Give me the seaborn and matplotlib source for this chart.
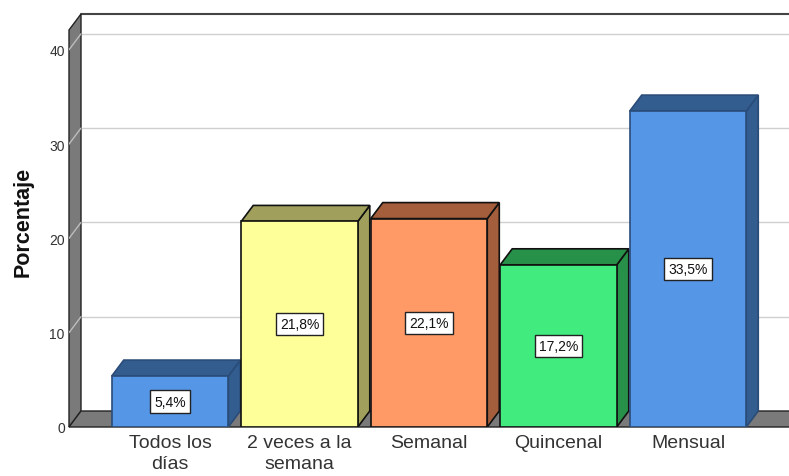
import matplotlib
matplotlib.use("Agg")
import matplotlib.pyplot as plt
import seaborn as sns
import pandas as pd
import numpy as np

categories = ["Todos los\ndías", "2 veces a la\nsemana", "Semanal", "Quincenal", "Mensual"]
values = [5.4, 21.8, 22.1, 17.2, 33.5]
value_labels = ["5,4%", "21,8%", "22,1%", "17,2%", "33,5%"]
front_colors = ["#5596E6", "#FFFF99", "#FF9966", "#41EB7E", "#5596E6"]
side_colors = ["#335C8F", "#A0A05C", "#A55E3C", "#279149", "#335C8F"]
edge_colors = ["#2A4C78", "#111111", "#111111", "#111111", "#2A4C78"]
yticks = [0, 10, 20, 30, 40]

sns.set_theme(style="white")
plt.rcParams['font.family'] = ['Liberation Sans', 'DejaVu Sans']

fig = plt.figure(figsize=(7.89, 4.77), dpi=100)
W, H = 789, 477
x_left_px, y_bottom_px, y_top_px = 69, 428, 15
ax = fig.add_axes([x_left_px / W, (H - y_bottom_px) / H, (W - x_left_px) / W, (y_bottom_px - y_top_px) / H])

px_per_unit_y = 9.43
px_per_cat = 129.5
ymax = (y_bottom_px - y_top_px) / px_per_unit_y
xmin, xmax = -0.78, 4.78
dx = 12 / px_per_cat
dy = 16 / px_per_unit_y
front_top = ymax - dy

df = pd.DataFrame({"cat": categories, "val": values})
sns.barplot(data=df, x="cat", y="val", hue="cat", palette=front_colors, legend=False,
            width=0.9, ax=ax, saturation=1, zorder=5)
bars = [p for c in ax.containers for p in c]

ax.set_xlim(xmin, xmax)
ax.set_ylim(0, ymax)
for s in ax.spines.values():
    s.set_visible(False)

# back wall
ax.fill([xmin + dx, xmax, xmax, xmin + dx], [dy, dy, ymax, ymax], color="white", zorder=0)
ax.plot([xmin + dx, xmax], [ymax, ymax], color="#444444", lw=1.5, zorder=1, clip_on=False)
for t in yticks[1:]:
    ax.plot([xmin + dx, xmax], [t + dy, t + dy], color="#CFCFCF", lw=1, zorder=1)
# left wall
ax.fill([xmin, xmin, xmin + dx, xmin + dx], [0, front_top, ymax, dy], facecolor="#7A7A7A",
        edgecolor="#222222", lw=1, zorder=2, clip_on=False)
for t in yticks[1:]:
    ax.plot([xmin, xmin + dx], [t, t + dy], color="#BDBDBD", lw=1, zorder=2.5)
# floor
ax.fill([xmin, xmin + dx, xmax + 0.05, xmax + 0.05], [0, dy, dy, 0], facecolor="#7A7A7A",
        edgecolor="#222222", lw=1, zorder=2, clip_on=False)

# 3D bars
for i, p in enumerate(bars):
    x0 = p.get_x()
    x1 = x0 + p.get_width()
    v = p.get_height()
    p.set_edgecolor(edge_colors[i])
    p.set_linewidth(1.2)
    ax.fill([x1, x1 + dx, x1 + dx, x1], [0, dy, v + dy, v], facecolor=side_colors[i],
            edgecolor=edge_colors[i], lw=1.2, zorder=4)
    ax.fill([x0, x0 + dx, x1 + dx, x1], [v, v + dy, v + dy, v], facecolor=side_colors[i],
            edgecolor=edge_colors[i], lw=1.2, zorder=4)
    ax.text(x0 + p.get_width() / 2, v / 2, value_labels[i], ha="center", va="center",
            fontsize=10, color="#111111", zorder=7,
            bbox=dict(boxstyle="square,pad=0.3", facecolor="white", edgecolor="#222222", lw=1))

ax.set_yticks(yticks)
ax.set_yticklabels([str(t) for t in yticks], fontsize=10, color="#333333")
ax.tick_params(axis="y", length=0, pad=3)
ax.tick_params(axis="x", length=0, pad=5)
ax.set_xticks(range(len(categories)))
ax.set_xticklabels(categories, fontsize=14, color="#333333", linespacing=1.3)
ax.set_xlabel("")
ax.set_ylabel("Porcentaje", fontsize=15.5, fontweight="bold", color="#111111", labelpad=11)
ax.grid(False)

fig.savefig("out.png", dpi=100)
